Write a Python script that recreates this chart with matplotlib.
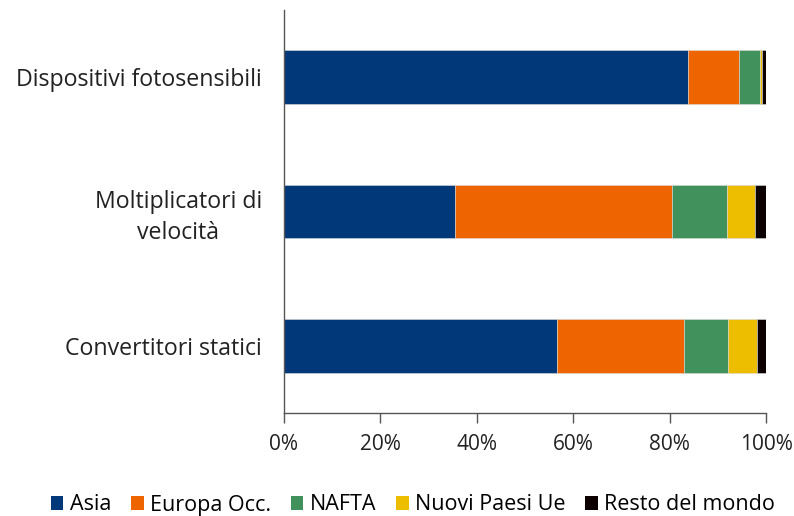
import matplotlib.pyplot as plt
import numpy as np
from matplotlib.ticker import PercentFormatter
from matplotlib.patches import Patch

categories = ["Convertitori statici", "Moltiplicatori di\nvelocità", "Dispositivi fotosensibili"]
series_names = ["Asia", "Europa Occ.", "NAFTA", "Nuovi Paesi Ue", "Resto del mondo"]
asia = [56.7, 35.5, 83.9]
europa = [26.2, 44.9, 10.4]
nafta = [9.3, 11.6, 4.4]
nuovi = [5.9, 5.7, 0.4]
resto = [1.9, 2.3, 0.9]
colors = ["#00387A", "#EE6500", "#40915C", "#EDBD00", "#0D0000"]

plt.rcParams['font.family'] = ['Open Sans', 'DejaVu Sans']

fig = plt.figure(figsize=(7.94, 5.16), dpi=100)
ax = fig.add_axes([284 / 794, 1 - 413 / 516, (766 - 284) / 794, (413 - 10) / 516])

y = np.arange(len(categories))
left = np.zeros(len(categories))
for name, vals, col in zip(series_names, [asia, europa, nafta, nuovi, resto], colors):
    vals = np.array(vals)
    ax.barh(y, vals, left=left, height=0.4, color=col, edgecolor="#d9d9d9",
            linewidth=0.4, label=name)
    left += vals

ax.set_xlim(0, 100)
ax.set_ylim(-0.5, 2.5)
ax.set_xticks(np.arange(0, 101, 20))
ax.xaxis.set_major_formatter(PercentFormatter(decimals=0))
ax.set_yticks(y)
ax.set_yticklabels(categories, fontsize=16.7, color="#222222",
                   multialignment="center", linespacing=1.35)
ax.tick_params(axis="y", length=0, pad=16)
ax.tick_params(axis="x", length=7, width=1, color="#555555", labelsize=15,
               labelcolor="#222222", pad=8)
for s in ["top", "right"]:
    ax.spines[s].set_visible(False)
for s in ["left", "bottom"]:
    ax.spines[s].set_color("#555555")
    ax.spines[s].set_linewidth(1)

handles = [Patch(facecolor=c, edgecolor="none") for c in colors]
fig.legend(handles, series_names, loc="center", bbox_to_anchor=(0.52, 1 - 505 / 516),
           ncol=5, frameon=False, fontsize=15.5, handlelength=0.6, handleheight=0.6,
           handletextpad=0.3, columnspacing=0.9)

fig.savefig("out.png", dpi=100)
